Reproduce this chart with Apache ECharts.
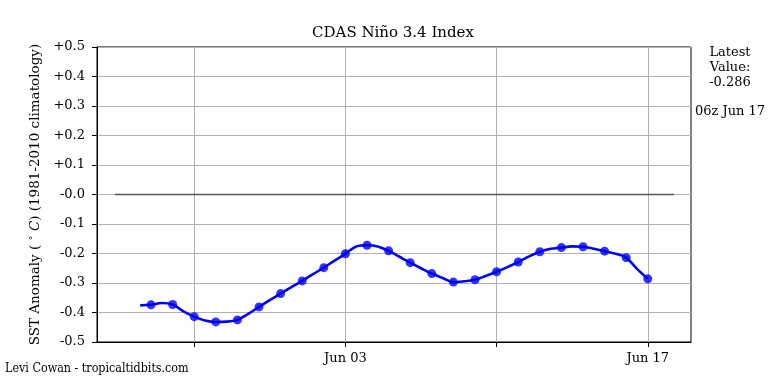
<!DOCTYPE html>
<html>
<head>
<meta charset="utf-8">
<script src="https://cdn.jsdelivr.net/npm/echarts@6/dist/echarts.min.js"></script>
<style>
  html, body { margin: 0; padding: 0; background: #ffffff; }
  #chart { width: 768px; height: 384px; }
</style>
</head>
<body>
<div id="chart"></div>
<script>
// ---- Data ----
// 00z daily values (marked with dots)
var dailyDates = ['2024-05-25','2024-05-26','2024-05-27','2024-05-28','2024-05-29','2024-05-30','2024-05-31',
  '2024-06-01','2024-06-02','2024-06-03','2024-06-04','2024-06-05','2024-06-06','2024-06-07','2024-06-08',
  '2024-06-09','2024-06-10','2024-06-11','2024-06-12','2024-06-13','2024-06-14','2024-06-15','2024-06-16','2024-06-17'];
var dailyValues = [-0.374,-0.373,-0.414,-0.432,-0.425,-0.381,-0.336,
  -0.293,-0.248,-0.201,-0.172,-0.191,-0.231,-0.268,-0.297,
  -0.289,-0.262,-0.229,-0.194,-0.180,-0.177,-0.192,-0.214,-0.286];
// 12z values (line only), one for each day from May 24 to Jun 16
var noonDates = ['2024-05-24','2024-05-25','2024-05-26','2024-05-27','2024-05-28','2024-05-29','2024-05-30',
  '2024-05-31','2024-06-01','2024-06-02','2024-06-03','2024-06-04','2024-06-05','2024-06-06','2024-06-07',
  '2024-06-08','2024-06-09','2024-06-10','2024-06-11','2024-06-12','2024-06-13','2024-06-14','2024-06-15','2024-06-16'];
var noonValues = [-0.376,-0.368,-0.396,-0.427,-0.431,-0.405,-0.358,
  -0.314,-0.270,-0.224,-0.176,-0.176,-0.211,-0.250,-0.283,
  -0.294,-0.276,-0.246,-0.210,-0.184,-0.176,-0.184,-0.201,-0.252];
var zeroLineRange = ['2024-05-23T08:00:00Z', '2024-06-18T05:00:00Z'];
var xRange = ['2024-05-22T12:00:00Z', '2024-06-19T00:00:00Z'];
var tickDates = ['2024-05-27','2024-06-03','2024-06-10','2024-06-17'];
var labelDates = ['2024-06-03','2024-06-17'];
var titleText = 'CDAS Niño 3.4 Index';
var latestValue = '-0.286';
var latestTime = '06z Jun 17';
var creditText = 'Levi Cowan - tropicaltidbits.com';

// ---- Build ----
function t(s) { return s.length === 10 ? Date.parse(s + 'T00:00:00Z') : Date.parse(s); }
var MONTHS = ['Jan','Feb','Mar','Apr','May','Jun','Jul','Aug','Sep','Oct','Nov','Dec'];
function fmtDate(v) {
  var d = new Date(v);
  var dd = d.getUTCDate();
  return MONTHS[d.getUTCMonth()] + ' ' + (dd < 10 ? '0' + dd : dd);
}
var lineData = [];
dailyDates.forEach(function (d, i) { lineData.push([t(d), dailyValues[i]]); });
noonDates.forEach(function (d, i) { lineData.push([t(d) + 12 * 3600000, noonValues[i]]); });
lineData.sort(function (a, b) { return a[0] - b[0]; });
var dotData = dailyDates.map(function (d, i) { return [t(d), dailyValues[i]]; });

var FONT = 'DejaVu Serif';
var chart = echarts.init(document.getElementById('chart'), null, { renderer: 'canvas' });
chart.setOption({
  animation: false,
  backgroundColor: '#ffffff',
  grid: {
    left: 97, right: 77, top: 47, bottom: 42,
    show: true, borderColor: '#000', borderWidth: 1, backgroundColor: 'transparent'
  },
  xAxis: {
    type: 'value',
    min: t(xRange[0]), max: t(xRange[1]),
    axisLine: { show: true, onZero: false, lineStyle: { color: '#000', width: 1 } },
    axisTick: { show: true, length: 5, lineStyle: { color: '#000' },
      customValues: tickDates.map(t) },
    axisLabel: { show: true, customValues: labelDates.map(t), formatter: fmtDate,
      fontFamily: FONT, fontSize: 13, color: '#000', margin: 10 },
    splitLine: { show: true, lineStyle: { color: '#b0b0b0', width: 1 } }
  },
  yAxis: {
    type: 'value', min: -0.5, max: 0.5, interval: 0.1,
    name: '{a|SST Anomaly ( }{s|°}{a| }{i|C}{a|) (1981-2010 climatology)}',
    nameLocation: 'middle', nameGap: 54, nameRotate: 90,
    nameTextStyle: {
      rich: {
        a: { fontFamily: FONT, fontSize: 13.5, color: '#000' },
        s: { fontFamily: FONT, fontSize: 10, color: '#000', verticalAlign: 'top' },
        i: { fontFamily: FONT, fontSize: 13.5, fontStyle: 'italic', color: '#000' }
      }
    },
    axisLine: { show: true, onZero: false, lineStyle: { color: '#000', width: 1 } },
    axisTick: { show: true, length: 5, lineStyle: { color: '#000' } },
    axisLabel: {
      fontFamily: FONT, fontSize: 13, color: '#000', margin: 12,
      formatter: function (v) {
        var r = Math.round(v * 10) / 10;
        return (r > 0 ? '+' : '-') + Math.abs(r).toFixed(1);
      }
    },
    splitLine: { show: true, lineStyle: { color: '#b0b0b0', width: 1 } }
  },
  series: [
    {
      type: 'line', data: [[t(zeroLineRange[0]), 0], [t(zeroLineRange[1]), 0]],
      showSymbol: false, symbol: 'none', silent: true, z: 2,
      lineStyle: { color: '#555555', width: 1.3 }
    },
    {
      type: 'line', data: lineData, smooth: 0.35, showSymbol: false, symbol: 'none', z: 3,
      lineStyle: { color: '#0000ff', width: 2.6 }
    },
    {
      type: 'scatter', data: dotData, symbol: 'circle', symbolSize: 9, z: 4,
      itemStyle: { color: '#0000ff' }
    }
  ],
  graphic: [
    { type: 'text', x: 393, y: 26, style: { text: titleText, fontFamily: FONT, fontSize: 15,
        fill: '#000', textAlign: 'center' } },
    { type: 'text', x: 730, y: 45, style: { text: 'Latest\nValue:\n' + latestValue, fontFamily: FONT, fontSize: 13,
        lineHeight: 15, fill: '#000', textAlign: 'center' } },
    { type: 'text', x: 730, y: 105, style: { text: latestTime, fontFamily: FONT, fontSize: 13,
        fill: '#000', textAlign: 'center' } },
    { type: 'text', x: 5, y: 363, style: { text: creditText, fontFamily: 'DejaVu Serif Condensed, DejaVu Serif', fontSize: 12.4,
        fill: '#000', textAlign: 'left' } }
  ]
});
</script>
</body>
</html>
